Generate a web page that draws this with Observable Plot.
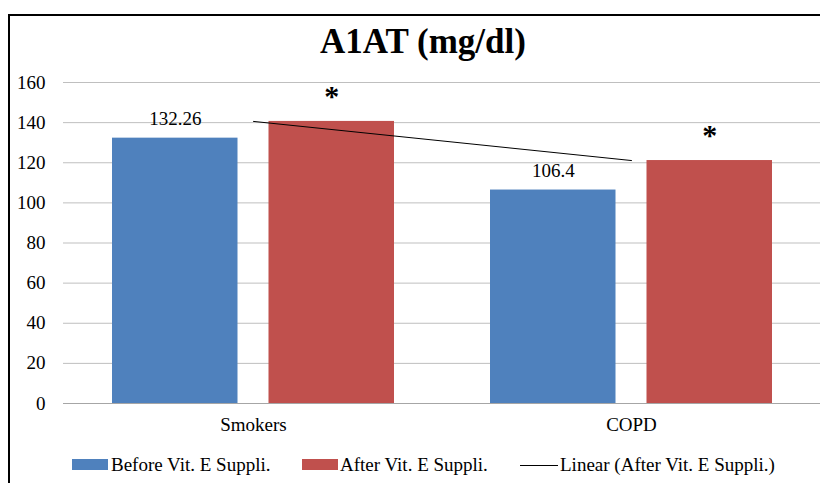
<!DOCTYPE html>
<html><head><meta charset="utf-8">
<script src="https://cdn.jsdelivr.net/npm/d3@7"></script>
<script src="https://cdn.jsdelivr.net/npm/@observablehq/plot@0.6"></script>
<style>
body{margin:0;background:#fff;font-family:'Liberation Serif','Times New Roman',serif;color:#000;}
#wrap{position:relative;width:820px;height:483px;overflow:hidden;background:#fff;}
#frame{position:absolute;left:8px;top:14px;width:830px;height:480px;border-left:2px solid #000;border-top:2px solid #000;}
#title{position:absolute;left:0;width:846px;top:22px;text-align:center;font-weight:bold;font-size:35px;line-height:40px;}
#chart{position:absolute;left:0;top:70px;}
#chart svg text{font-family:'Liberation Serif','Times New Roman',serif;}
.leg{position:absolute;top:454px;font-size:19px;line-height:22px;white-space:nowrap;}
.sw{position:absolute;top:459px;height:11px;}
.ln{position:absolute;top:465px;height:1px;background:#000;}
</style></head>
<body>
<div id="wrap">
  <div id="frame"></div>
  <div id="title"></div>
  <div id="chart"></div>
  <div id="legend"></div>
</div>
<script>
const titleText = "A1AT (mg/dl)";
const groups = ["Smokers", "COPD"];
const seriesNames = ["Before Vit. E Suppli.", "After Vit. E Suppli."];
const trendName = "Linear (After Vit. E Suppli.)";
const beforeValues = [132.26, 106.4];
const afterValues = [140.6, 121.1];
const beforeLabels = ["132.26", "106.4"];
const afterLabels = ["*", "*"];
const yTicks = [0, 20, 40, 60, 80, 100, 120, 140, 160];
const colors = ["#4f81bd", "#c0504d"];

const beforeRows = groups.map((g, i) => ({group: g, value: beforeValues[i], label: beforeLabels[i]}));
const afterRows = groups.map((g, i) => ({group: g, value: afterValues[i], label: afterLabels[i]}));

document.getElementById("title").textContent = titleText;

// each category band is split: outer gap, Before bar, inner gap, After bar, outer gap
const outer = 48, inner = 204.5, off = 78.25;

const chart = Plot.plot({
  width: 820, height: 373,
  marginLeft: 63, marginRight: 0, marginTop: 12, marginBottom: 40,
  style: {fontFamily: "'Liberation Serif', 'Times New Roman', serif", fontSize: "19px", color: "#000", background: "transparent", overflow: "visible"},
  x: {domain: groups, padding: 0, label: null, tickSize: 0, tickPadding: 14},
  y: {domain: [0, 160], ticks: yTicks, label: null, tickSize: 0, tickPadding: 18},
  marks: [
    Plot.gridY(yTicks.slice(1), {stroke: "#bfbfbf", strokeOpacity: 1}),
    Plot.barY(beforeRows, {x: "group", y: "value", fill: colors[0], insetLeft: outer, insetRight: inner}),
    Plot.barY(afterRows, {x: "group", y: "value", fill: colors[1], insetLeft: inner, insetRight: outer}),
    Plot.ruleY([0], {stroke: "#a6a6a6"}),
    Plot.text(beforeRows, {x: "group", y: "value", text: "label", dx: -off, dy: -19, fontSize: 19, fill: "#000"}),
    Plot.text(afterRows, {x: "group", y: "value", text: "label", dx: off, dy: -25, fontSize: 30, fontWeight: "bold", fill: "#000"}),
    Plot.line(afterRows, {x: "group", y: "value", stroke: "#000", strokeWidth: 1})
  ]
});
document.getElementById("chart").appendChild(chart);

const leg = document.getElementById("legend");
const items = [
  {kind: "sw", color: colors[0], x: 72, w: 36, text: seriesNames[0], tx: 111},
  {kind: "sw", color: colors[1], x: 302, w: 36, text: seriesNames[1], tx: 340},
  {kind: "ln", color: "#000", x: 520, w: 38, text: trendName, tx: 560}
];
for (const it of items) {
  const s = document.createElement("div");
  s.className = it.kind;
  s.style.left = it.x + "px";
  s.style.width = it.w + "px";
  s.style.background = it.color;
  leg.appendChild(s);
  const t = document.createElement("div");
  t.className = "leg";
  t.style.left = it.tx + "px";
  t.textContent = it.text;
  leg.appendChild(t);
}
</script>
</body></html>
